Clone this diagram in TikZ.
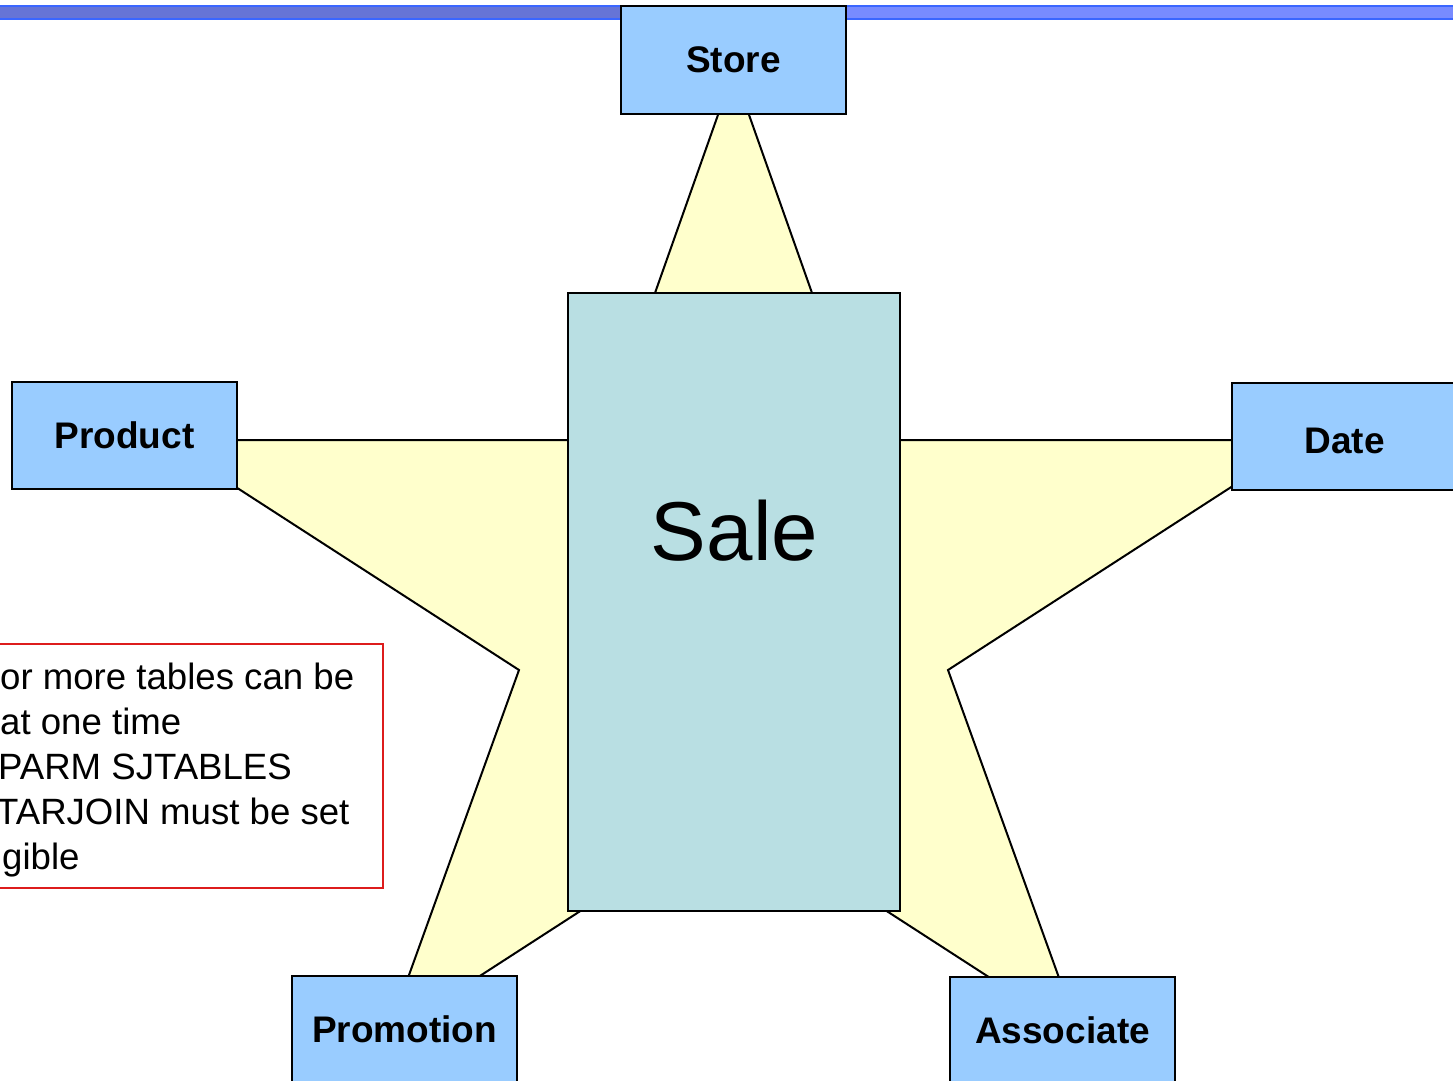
\documentclass[tikz,border=0pt]{standalone}
\usepackage{fontspec}
\setmainfont{Liberation Sans}
\definecolor{dimfill}{HTML}{99CCFF}
\definecolor{factfill}{HTML}{B9DFE3}
\definecolor{starfill}{HTML}{FFFFCC}
\definecolor{barline}{HTML}{3A66FF}
\definecolor{barleft}{HTML}{6674D6}
\definecolor{barright}{HTML}{788BFF}
\definecolor{noteline}{HTML}{DD1C1C}
\begin{document}
\begin{tikzpicture}[x=1pt,y=-1pt,
  dimbox/.style={draw=black, line width=2pt, fill=dimfill,
    minimum width=225pt, minimum height=107pt, inner sep=0pt,
    font=\fontsize{37}{44}\selectfont\bfseries},
  notetext/.style={anchor=base west, inner sep=0pt,
    font=\fontsize{36.6}{45}\selectfont}]
\useasboundingbox (0,0) rectangle (1453,1081);
\clip (0,0) rectangle (1453,1081);

% title bar along the top edge
\fill[barleft] (0,6) rectangle (733,19);
\fill[barright] (733,6) rectangle (1453,19);
\draw[barline, line width=2pt] (0,6) -- (1453,6) (0,19.5) -- (1453,19.5);

% star outline behind the tables
\coordinate (pTop) at (733.5,71);
\coordinate (iUR) at (864,440);
\coordinate (pRight) at (1304,440);
\coordinate (iLR) at (948,670);
\coordinate (pBR) at (1080,1036);
\coordinate (iBot) at (733.5,812);
\coordinate (pBL) at (387,1036);
\coordinate (iLL) at (519,670);
\coordinate (pLeft) at (163,440);
\coordinate (iUL) at (603,440);
\draw[fill=starfill, line width=2pt, line join=miter]
  (pTop) -- (iUR) -- (pRight) -- (iLR) -- (pBR) -- (iBot) -- (pBL)
  -- (iLL) -- (pLeft) -- (iUL) -- cycle;

% fact table
\node[draw=black, line width=2pt, fill=factfill, minimum width=332pt,
  minimum height=618pt, inner sep=0pt] (sale) at (734,602) {};
\node[anchor=base, inner sep=0pt, font=\fontsize{83.5}{90}\selectfont]
  (saletext) at (734.5,560) {Sale};

% dimension tables
\node[dimbox] (store) at (733.5,60) {Store};
\node[dimbox] (product) at (124.5,435.5) {Product};
\node[dimbox] (date) at (1344.5,436.5) {};
\node[inner sep=0pt, font=\fontsize{37}{44}\selectfont\bfseries,
  yshift=-4pt] (datetext) at (date.center) {Date};
\node[dimbox] (promotion) at (404.5,1029.5) {Promotion};
\node[dimbox] (associate) at (1062.5,1030.5) {Associate};

% note box
\node[draw=noteline, line width=2pt, minimum width=400pt,
  minimum height=244pt, inner sep=0pt] (note) at (183,766) {};
\node[notetext] (n1) at (0,689) {or more tables can be};
\node[notetext] (n2) at (0,734) {at one time};
\node[notetext] (n3) at (-2,779) {PARM SJTABLES};
\node[notetext] (n4) at (-4,824) {TARJOIN must be set};
\node[notetext] (n5) at (2,869) {gible};
\end{tikzpicture}
\end{document}
